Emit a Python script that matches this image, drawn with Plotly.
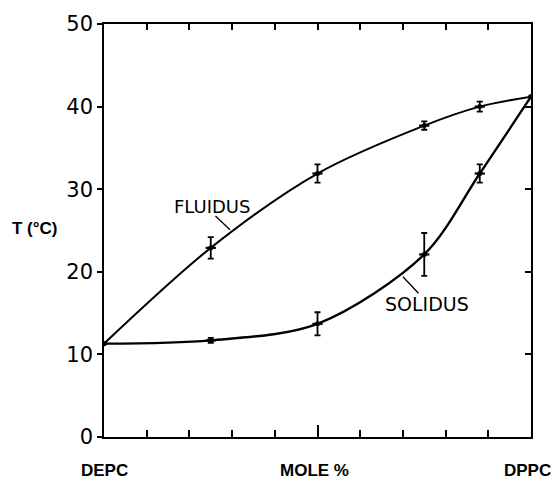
import plotly.graph_objects as go

# Data
mole_pct = [0, 25, 50, 75, 88, 100]
fluidus_T = [11.3, 22.9, 31.9, 37.7, 40.0, 41.2]
fluidus_err = [0, 1.3, 1.1, 0.5, 0.6, 0]
solidus_T = [11.3, 11.7, 13.7, 22.1, 31.9, 41.2]
solidus_err = [0, 0.3, 1.4, 2.6, 1.1, 0]
x_err = [0, 1.2, 1.2, 1.2, 1.2, 0]

y_ticks = [0, 10, 20, 30, 40, 50]
bottom_labels = ["DEPC", "MOLE %", "DPPC"]
bottom_label_pos = [0, 50, 100]

NUM_FONT = dict(family="DejaVu Sans", size=21, color="black")

fig = go.Figure()

for yv, err, w in [(fluidus_T, fluidus_err, 2), (solidus_T, solidus_err, 2.4)]:
    fig.add_trace(go.Scatter(
        x=mole_pct, y=yv, mode="lines+markers",
        line=dict(color="black", width=w, shape="spline", smoothing=0.9),
        marker=dict(color="black", size=5, symbol="circle"),
        error_y=dict(type="data", array=err, visible=True, color="black",
                     thickness=1.8, width=3),
        error_x=dict(type="data", array=x_err, visible=True, color="black",
                     thickness=2.2, width=0),
        showlegend=False, hoverinfo="skip",
    ))

# invisible trace on secondary axes to activate them
fig.add_trace(go.Scatter(x=[0, 100], y=[0, 50], xaxis="x2", yaxis="y2",
                         mode="markers", marker=dict(opacity=0),
                         showlegend=False, hoverinfo="skip"))

fig.update_layout(
    width=551, height=480,
    margin=dict(l=104, r=20, t=20, b=43),
    paper_bgcolor="white", plot_bgcolor="white",
    xaxis=dict(range=[0, 100], showgrid=False, zeroline=False,
               showline=True, linecolor="black", linewidth=1.5, mirror=True,
               tickvals=[50], ticks="inside", ticklen=12, tickwidth=1.5,
               tickcolor="black", showticklabels=False,
               minor=dict(tickvals=[10, 20, 30, 40, 60, 70, 80, 90],
                          ticks="inside", ticklen=7, tickwidth=1.5,
                          tickcolor="black")),
    yaxis=dict(range=[0, 50], showgrid=False, zeroline=False,
               showline=True, linecolor="black", linewidth=1.5, mirror=True,
               tickvals=y_ticks, ticks="outside", ticklen=5, tickwidth=1.5,
               tickcolor="black", tickfont=NUM_FONT),
    xaxis2=dict(range=[0, 100], overlaying="x", side="top", showgrid=False,
                zeroline=False, showline=False,
                tickvals=[10, 20, 30, 40, 50, 60, 70, 80, 90],
                ticks="inside", ticklen=6, tickwidth=1.5, tickcolor="black",
                showticklabels=False),
    yaxis2=dict(range=[0, 50], overlaying="y", side="right", showgrid=False,
                zeroline=False, showline=False, tickvals=[10, 20, 30, 40],
                ticks="inside", ticklen=6, tickwidth=1.5, tickcolor="black",
                showticklabels=False),
)

label_xshift = [0, -3, -4]
for lbl, pos, xs in zip(bottom_labels, bottom_label_pos, label_xshift):
    fig.add_annotation(x=pos, y=0, xref="x", yref="paper", text=f"<b>{lbl}</b>",
                       showarrow=False, yanchor="top", yshift=-22, xshift=xs,
                       font=dict(family="Liberation Sans", size=17, color="black"))

fig.add_annotation(x=-0.22, y=25.2, xref="paper", yref="y", text="<b>T (°C)</b>",
                   showarrow=False, xanchor="left",
                   font=dict(family="Liberation Sans", size=17, color="black"))

# curve labels
fig.add_annotation(x=25.3, y=27.9, xref="x", yref="y", text="FLUIDUS",
                   showarrow=False,
                   font=dict(family="DejaVu Sans", size=18, color="black"))
fig.add_annotation(x=29.5, y=25.1, xref="x", yref="y", text="",
                   showarrow=True, arrowhead=0, arrowwidth=1.3,
                   arrowcolor="black", ax=-16, ay=-15)
fig.add_annotation(x=75.6, y=16.1, xref="x", yref="y", text="SOLIDUS",
                   showarrow=False,
                   font=dict(family="DejaVu Sans", size=19, color="black"))
fig.add_annotation(x=70, y=19.4, xref="x", yref="y", text="",
                   showarrow=True, arrowhead=0, arrowwidth=1.3,
                   arrowcolor="black", ax=17, ay=18)

fig.write_html("out.html", config={"displayModeBar": False},
               post_script="document.body.style.margin='0';document.body.style.padding='0';")
